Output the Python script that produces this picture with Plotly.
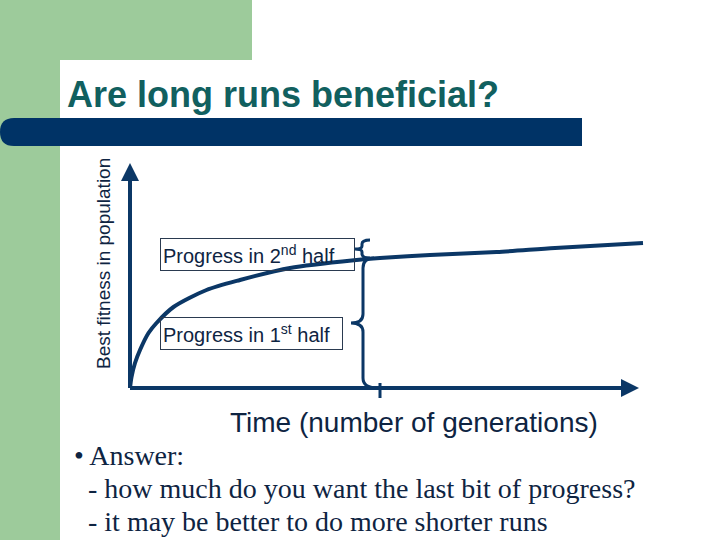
import plotly.graph_objects as go

# ---- data ----
time = [0, 0.3, 1, 2, 3.7, 5.3, 8.7, 15.3, 22, 32, 45.3, 50, 60, 73.3, 85, 102.6]
fitness = [0, 11, 25, 38, 55, 65, 81, 98, 108, 120, 128, 130, 133, 136, 140, 145]
half_time = 50
title_text = "Are long runs beneficial?"
y_label = "Best fitness in population"
x_label = "Time (number of generations)"
box_labels = ["Progress in 2<sup>nd</sup> half", "Progress in 1<sup>st</sup> half"]
bullets = ["• Answer:", "  - how much do you want the last bit of progress?", "  - it may be better to do more shorter runs"]

NAVY = "#0b3766"
BAR = "#003366"
GREEN = "#9dcb9b"
TEAL = "#11605f"
TXT = "#0e2442"

W, H = 720, 540
# chart origin (pixels) and scale: 5 px per time unit, 1 px per fitness unit
X0, Y0 = 130, 388
XMIN, XMAX = -4, 104
YMIN, YMAX = -15, 228
xr = [XMIN, XMAX]
yr = [YMIN, YMAX]
xdom = [(X0 + XMIN * 5) / W, (X0 + XMAX * 5) / W]
ydom = [1 - (Y0 - YMIN) / H, 1 - (Y0 - YMAX) / H]

fig = go.Figure()
fig.add_trace(go.Scatter(x=time, y=fitness, mode="lines", xaxis="x2", yaxis="y2",
                         line=dict(color=NAVY, width=4, shape="spline", smoothing=0.8),
                         hoverinfo="skip", showlegend=False))

def tx(px):
    return (px - X0) / 5.0

def fy(py):
    return (Y0 - py) * 1.0

shapes = []
# background decorations (pixel coords)
shapes.append(dict(type="rect", xref="x", yref="y", x0=0, x1=252, y0=0, y1=60,
                   fillcolor=GREEN, line=dict(width=0), layer="below"))
shapes.append(dict(type="rect", xref="x", yref="y", x0=0, x1=60, y0=0, y1=540,
                   fillcolor=GREEN, line=dict(width=0), layer="below"))
shapes.append(dict(type="path", xref="x", yref="y",
                   path="M 60,540 L 60,75 Q 60,60 75,60 L 720,60 L 720,540 Z",
                   fillcolor="white", line=dict(width=0), layer="below"))
shapes.append(dict(type="path", xref="x", yref="y",
                   path="M 14,118 L 582,118 L 582,146 L 14,146 Q 0,146 0,132 Q 0,118 14,118 Z",
                   fillcolor=BAR, line=dict(width=0), layer="below"))

# half-time tick
shapes.append(dict(type="line", xref="x2", yref="y2", x0=half_time, x1=half_time,
                   y0=-10, y1=5, line=dict(color=NAVY, width=3)))

# braces (in chart coordinates)
f_half = fitness[time.index(half_time)]
def P(px, py):
    return f"{tx(px):.3f},{fy(py):.3f}"

ytop = Y0 - f_half  # pixel of half fitness
ymid = (Y0 + ytop) / 2
big = (f"M {P(374, ytop)} Q {P(363, ytop)} {P(363, ytop+10)} L {P(363, ymid-9)} "
       f"Q {P(363, ymid)} {P(351, ymid)} Q {P(363, ymid)} {P(363, ymid+9)} "
       f"L {P(363, Y0-10)} Q {P(363, Y0)} {P(378, Y0)}")
shapes.append(dict(type="path", xref="x2", yref="y2", path=big,
                   line=dict(color=NAVY, width=3)))
ytop2 = ytop - 18
ymid2 = (ytop + ytop2) / 2
small = (f"M {P(370, ytop2)} Q {P(362, ytop2)} {P(362, ytop2+4)} L {P(362, ymid2-3)} "
         f"Q {P(362, ymid2)} {P(355, ymid2)} Q {P(362, ymid2)} {P(362, ymid2+3)} "
         f"L {P(362, ytop-4)} Q {P(362, ytop)} {P(370, ytop)}")
shapes.append(dict(type="path", xref="x2", yref="y2", path=small,
                   line=dict(color=NAVY, width=3)))

annotations = []
# axes arrows
annotations.append(dict(xref="x2", yref="y2", axref="x2", ayref="y2",
                        x=0, y=fy(163), ax=0, ay=-1.5, text="", showarrow=True,
                        arrowhead=2, arrowsize=0.9, arrowwidth=4, arrowcolor=NAVY))
annotations.append(dict(xref="x2", yref="y2", axref="x2", ayref="y2",
                        x=tx(639), y=0, ax=-0.3, ay=0, text="", showarrow=True,
                        arrowhead=2, arrowsize=0.9, arrowwidth=4, arrowcolor=NAVY))

annotations.append(dict(xref="x", yref="y", x=65, y=94, text=f"<b>{title_text}</b>",
                        showarrow=False, xanchor="left", yanchor="middle",
                        font=dict(family="Liberation Sans, Arial", size=36, color=TEAL)))
annotations.append(dict(xref="x", yref="y", x=103, y=264, text=y_label, textangle=-90,
                        showarrow=False, xanchor="center", yanchor="middle",
                        font=dict(family="Liberation Sans, Arial", size=19, color=TXT)))
annotations.append(dict(xref="x", yref="y", x=414, y=422, text=x_label,
                        showarrow=False, xanchor="center", yanchor="middle",
                        font=dict(family="Liberation Sans, Arial", size=28, color=TXT)))
annotations.append(dict(xref="x", yref="y", x=160, y=254.5, text=box_labels[0],
                        showarrow=False, xanchor="left", yanchor="middle", align="left",
                        width=189, height=27, borderpad=2, borderwidth=1, bordercolor="#2a3a50",
                        font=dict(family="Liberation Sans, Arial", size=20, color=TXT)))
annotations.append(dict(xref="x", yref="y", x=160, y=333, text=box_labels[1],
                        showarrow=False, xanchor="left", yanchor="middle", align="left",
                        width=177, height=27, borderpad=2, borderwidth=1, bordercolor="#2a3a50",
                        font=dict(family="Liberation Sans, Arial", size=20, color=TXT)))
for i, (b, yy) in enumerate(zip(bullets, [455, 488, 521])):
    annotations.append(dict(xref="x", yref="y", x=72 if i == 0 else 72, y=yy,
                            text=b.replace("  ", "&nbsp;&nbsp;"),
                            showarrow=False, xanchor="left", yanchor="middle",
                            font=dict(family="Liberation Serif, Times New Roman", size=28, color=TXT)))

fig.update_layout(
    width=W, height=H, margin=dict(l=0, r=0, t=0, b=0),
    paper_bgcolor="white", plot_bgcolor="rgba(0,0,0,0)",
    showlegend=False,
    xaxis=dict(range=[0, W], domain=[0, 1], visible=False, fixedrange=True),
    yaxis=dict(range=[H, 0], domain=[0, 1], visible=False, fixedrange=True),
    xaxis2=dict(range=xr, domain=xdom, anchor="y2", visible=False),
    yaxis2=dict(range=yr, domain=ydom, anchor="x2", visible=False),
    shapes=shapes, annotations=annotations,
)

fig.write_html("out.html", config={"displayModeBar": False},
               post_script="document.body.style.margin='0';document.body.style.overflow='hidden';")
